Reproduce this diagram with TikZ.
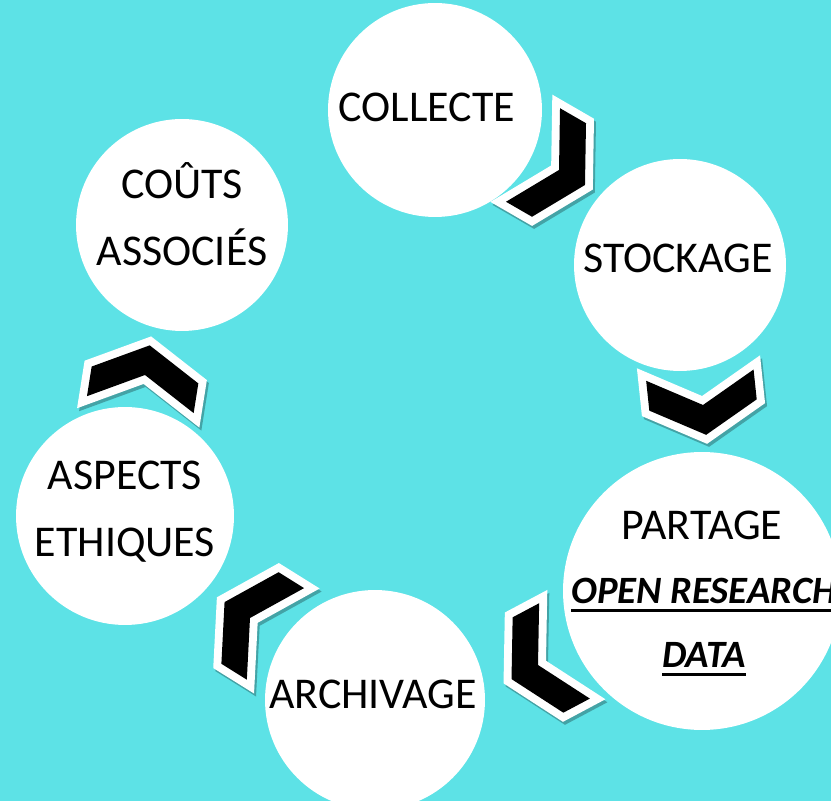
\documentclass[tikz,border=0pt]{standalone}
\usepackage{fontspec}
\setmainfont{Carlito}
\newsavebox{\textkasten}
\newcommand{\unterstrich}[1]{\sbox{\textkasten}{#1}\rlap{\rule[-4.6pt]{\wd\textkasten}{1.6pt}}\usebox{\textkasten}}
\definecolor{tuerkis}{RGB}{93,226,230}
\tikzstyle{schatten} = [fill=tuerkis!72!black, draw=tuerkis!72!black, line width=9pt, line join=miter]
\tikzstyle{rand} = [fill=white, draw=white, line width=9pt, line join=miter]
\newcommand{\winkelPf}[3]{
    \begin{scope}[shift={(#1+2,#2-3)},rotate=#3]
    \filldraw[schatten] (30,0) -- (0,54) -- (-30,54) -- (0,0) -- (-30,-54) -- (0,-54) -- cycle;
    \end{scope}
    \begin{scope}[shift={(#1,#2)},rotate=#3]
    \filldraw[rand] (30,0) -- (0,54) -- (-30,54) -- (0,0) -- (-30,-54) -- (0,-54) -- cycle;
    \fill[black] (30,0) -- (0,54) -- (-30,54) -- (0,0) -- (-30,-54) -- (0,-54) -- cycle;
    \end{scope}
}

\begin{document}
\begin{tikzpicture}[x=0.02cm,y=0.02cm]
\tikzstyle{kreis}=[shape=circle,fill=white,inner sep=0pt]
\tikzstyle{schrift}=[anchor=base,inner sep=0pt,font=\fontsize{25pt}{25pt}\selectfont]
\tikzstyle{betont}=[schrift,font=\fontsize{22pt}{22pt}\selectfont\bfseries\itshape]

\fill[tuerkis] (0,0) rectangle (831,801);
\useasboundingbox (0,0) rectangle (831,801);

\node[kreis,minimum size=4.28cm] (collecte) at (435,691) {};
\node[kreis,minimum size=4.24cm] (stockage) at (680,536) {};
\node[kreis,minimum size=5.56cm] (partage) at (702,210) {};
\node[kreis,minimum size=4.40cm] (archivage) at (375,101) {};
\node[kreis,minimum size=4.36cm] (aspects) at (125,285) {};
\node[kreis,minimum size=4.24cm] (couts) at (182,576) {};

\node[schrift] (collecteTxt) at (427,679) {COLLECTE};
\node[schrift] (stockageTxt) at (678,528) {STOCKAGE};
\node[schrift] (partageTxt) at (702,261) {PARTAGE};
\node[betont] (openTxt) at (704,197) {\unterstrich{OPEN RESEARCH}};
\node[betont] (dataTxt) at (704,133) {\unterstrich{DATA}};
\node[schrift] (archivageTxt) at (373,92) {ARCHIVAGE};
\node[schrift] (aspectsTxt) at (125,311) {ASPECTS};
\node[schrift] (ethiquesTxt) at (125,244) {ETHIQUES};
\node[schrift] (coutsTxt) at (182,602) {COÛTS};
\node[schrift] (associesTxt) at (182,535) {ASSOCIÉS};

% Winkelpfeile zwischen den Kreisen
\winkelPf{559}{631}{-30}
\winkelPf{703}{396}{-84}
\winkelPf{538}{136}{-152}
\winkelPf{250}{183}{148}
\winkelPf{145}{426}{81}
\end{tikzpicture}
\end{document}
